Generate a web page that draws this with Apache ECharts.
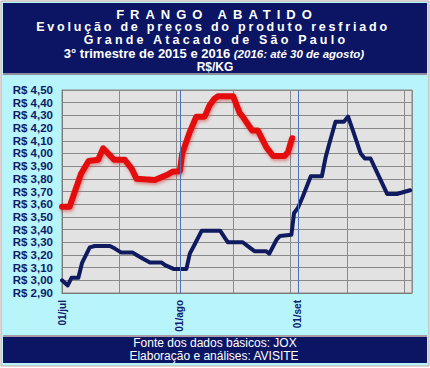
<!DOCTYPE html>
<html>
<head>
<meta charset="utf-8">
<script src="https://cdn.jsdelivr.net/npm/echarts@6/dist/echarts.min.js"></script>
<style>
html,body{margin:0;padding:0;background:#ffffff;}
#chart{width:430px;height:368px;}
</style>
</head>
<body>
<div id="chart"></div>
<script>
// ---- data (day offset from 01/jul, price R$/kg) ----
const dias2016 = [0, 2, 5, 7, 9.5, 10.8, 11.8, 13.7, 16.5, 18.3, 19.6, 24.4, 27.5, 29, 31, 31.6, 33.6, 35.3, 37.5, 38.8, 40, 41, 45, 46.7, 47.5, 49.3, 50, 51.5, 53.7, 55.5, 58.5, 59.4, 60.5];
const precos2016 = [3.58, 3.58, 3.84, 3.94, 3.95, 4.04, 4.01, 3.95, 3.95, 3.88, 3.80, 3.79, 3.83, 3.855, 3.86, 4.00, 4.17, 4.29, 4.29, 4.38, 4.43, 4.45, 4.45, 4.32, 4.29, 4.21, 4.18, 4.18, 4.05, 3.98, 3.98, 4.01, 4.12];
const dias2015 = [0, 1.5, 2.5, 4.3, 5.3, 7.3, 8.6, 12.6, 13.9, 15.5, 18.5, 19.6, 21.3, 23.1, 26.2, 27.1, 29.3, 32.7, 33.6, 35, 36.7, 41.6, 42.9, 43.6, 47.5, 48.4, 49.7, 50.6, 53.6, 54.5, 56.4, 57.3, 60.3, 61, 62, 63.3, 65.4, 68.3, 69.3, 70.2, 71.9, 74.1, 75.2, 76.7, 78.5, 79.6, 81.1, 83.3, 85.5, 88, 91.5];
const precos2015 = [3.00, 2.96, 3.02, 3.02, 3.14, 3.26, 3.27, 3.27, 3.25, 3.22, 3.22, 3.20, 3.17, 3.14, 3.14, 3.12, 3.09, 3.09, 3.21, 3.29, 3.39, 3.39, 3.33, 3.30, 3.30, 3.28, 3.25, 3.23, 3.23, 3.21, 3.32, 3.35, 3.36, 3.53, 3.57, 3.66, 3.82, 3.82, 3.97, 4.07, 4.25, 4.25, 4.29, 4.16, 4.00, 3.96, 3.96, 3.82, 3.68, 3.68, 3.71];
const mesDias = [0, 31, 62];
const mesRotulos = ['01/jul', '01/ago', '01/set'];
const titulo1 = 'FRANGO ABATIDO';
const titulo2 = 'Evolução de preços do produto resfriado';
const titulo3 = 'Grande Atacado de São Paulo';
const titulo4a = '3° trimestre de 2015 e 2016 ';
const titulo4b = '(2016: até 30 de agosto)';
const titulo5 = 'R$/KG';
const fonte1 = 'Fonte dos dados básicos: JOX';
const fonte2 = 'Elaboração e análises: AVISITE';

const FF = '"Liberation Sans", Arial, sans-serif';
const NAVY = '#0b1563';
const pares = (xs, ys) => xs.map((x, i) => [x, ys[i]]);

const chart = echarts.init(document.getElementById('chart'), null, {renderer: 'svg'});
chart.setOption({
  animation: false,
  backgroundColor: '#ffffff',
  graphic: [
    {type: 'rect', z: -10, shape: {x: 1, y: 1, width: 428, height: 365}, style: {fill: '#b8f5fa', stroke: '#c9a3a3', lineWidth: 1}},
    {type: 'rect', z: -9, shape: {x: 3, y: 3, width: 424, height: 70}, style: {fill: NAVY}},
    {type: 'rect', z: -9, shape: {x: 3, y: 73, width: 424, height: 2}, style: {fill: '#8e8ea0'}},
    {type: 'rect', z: -9, shape: {x: 3, y: 335, width: 424, height: 2}, style: {fill: '#a89aa6'}},
    {type: 'rect', z: -9, shape: {x: 3, y: 337, width: 424, height: 26}, style: {fill: NAVY}},
    {type: 'text', z: 100, style: {text: titulo1, x: 217, y: 14, align: 'center', verticalAlign: 'middle', fill: '#ffffff', font: 'bold 13px ' + FF}},
    {type: 'text', z: 100, style: {text: titulo2, x: 213, y: 27, align: 'center', verticalAlign: 'middle', fill: '#ffffff', font: 'bold 12.5px ' + FF}},
    {type: 'text', z: 100, style: {text: titulo3, x: 216, y: 40, align: 'center', verticalAlign: 'middle', fill: '#ffffff', font: 'bold 12.5px ' + FF}},
    {type: 'text', z: 100, style: {
      text: '{a|' + titulo4a + '}{b|' + titulo4b + '}', x: 214, y: 53.5, align: 'center', verticalAlign: 'middle',
      rich: {a: {fill: '#ffffff', font: 'bold 13px ' + FF}, b: {fill: '#ffffff', font: 'italic bold 11.5px ' + FF}}
    }},
    {type: 'text', z: 100, style: {text: titulo5, x: 215, y: 66.5, align: 'center', verticalAlign: 'middle', fill: '#ffffff', font: 'bold 12px ' + FF}},
    {type: 'text', z: 100, style: {text: fonte1, x: 215, y: 343, align: 'center', verticalAlign: 'middle', fill: '#ffffff', font: '12px ' + FF}},
    {type: 'text', z: 100, style: {text: fonte2, x: 214, y: 355.5, align: 'center', verticalAlign: 'middle', fill: '#ffffff', font: '12px ' + FF}}
  ],
  grid: {left: 62, right: 18, top: 90, bottom: 75, show: true, backgroundColor: '#e2e2e2', borderColor: '#8a8a8a', borderWidth: 1},
  xAxis: {
    type: 'value', min: 0, max: 92, interval: 15,
    axisLine: {show: true, lineStyle: {color: '#7a7a7a', width: 1}},
    axisTick: {show: false},
    splitLine: {show: true, lineStyle: {color: '#8a8a8a', width: 1}},
    axisLabel: {
      customValues: mesDias, rotate: 90, margin: 7, color: '#102070',
      fontFamily: FF, fontWeight: 'bold', fontSize: 10,
      formatter: v => mesRotulos[mesDias.indexOf(v)] || ''
    }
  },
  yAxis: {
    type: 'value', min: 2.9, max: 4.5, interval: 0.1,
    axisLine: {show: true, lineStyle: {color: '#7a7a7a', width: 1}},
    axisTick: {show: false},
    splitLine: {show: true, lineStyle: {color: '#8a8a8a', width: 1}},
    axisLabel: {
      margin: 9, color: '#0e1c66', fontFamily: FF, fontWeight: 'bold', fontSize: 11.5,
      formatter: v => 'R$ ' + v.toFixed(2).replace('.', ',')
    }
  },
  series: [
    {
      type: 'line', data: pares(dias2015, precos2015), symbol: 'none', z: 3,
      lineStyle: {color: '#0f1b5e', width: 4, join: 'round', cap: 'round'},
      markLine: {
        silent: true, symbol: 'none', label: {show: false},
        lineStyle: {color: '#4a72b8', width: 1, type: 'solid'},
        data: mesDias.slice(1).map(d => ({xAxis: d}))
      }
    },
    {
      type: 'line', data: pares(dias2016, precos2016), symbol: 'none', z: 4,
      lineStyle: {color: '#e30f0f', width: 6, join: 'round', cap: 'round',
        shadowColor: 'rgba(210,40,40,0.45)', shadowBlur: 3, shadowOffsetX: 1, shadowOffsetY: 2}
    }
  ]
});

// letter spacing for the spaced title lines (as in the original)
const espacos = {};
espacos[titulo1] = '6px';
espacos[titulo2] = '2.8px';
espacos[titulo3] = '3.2px';
espacos[titulo4a + titulo4b] = '0.3px';
document.querySelectorAll('#chart text').forEach(t => {
  const s = espacos[t.textContent];
  if (s) t.setAttribute('letter-spacing', s);
});
</script>
</body>
</html>
